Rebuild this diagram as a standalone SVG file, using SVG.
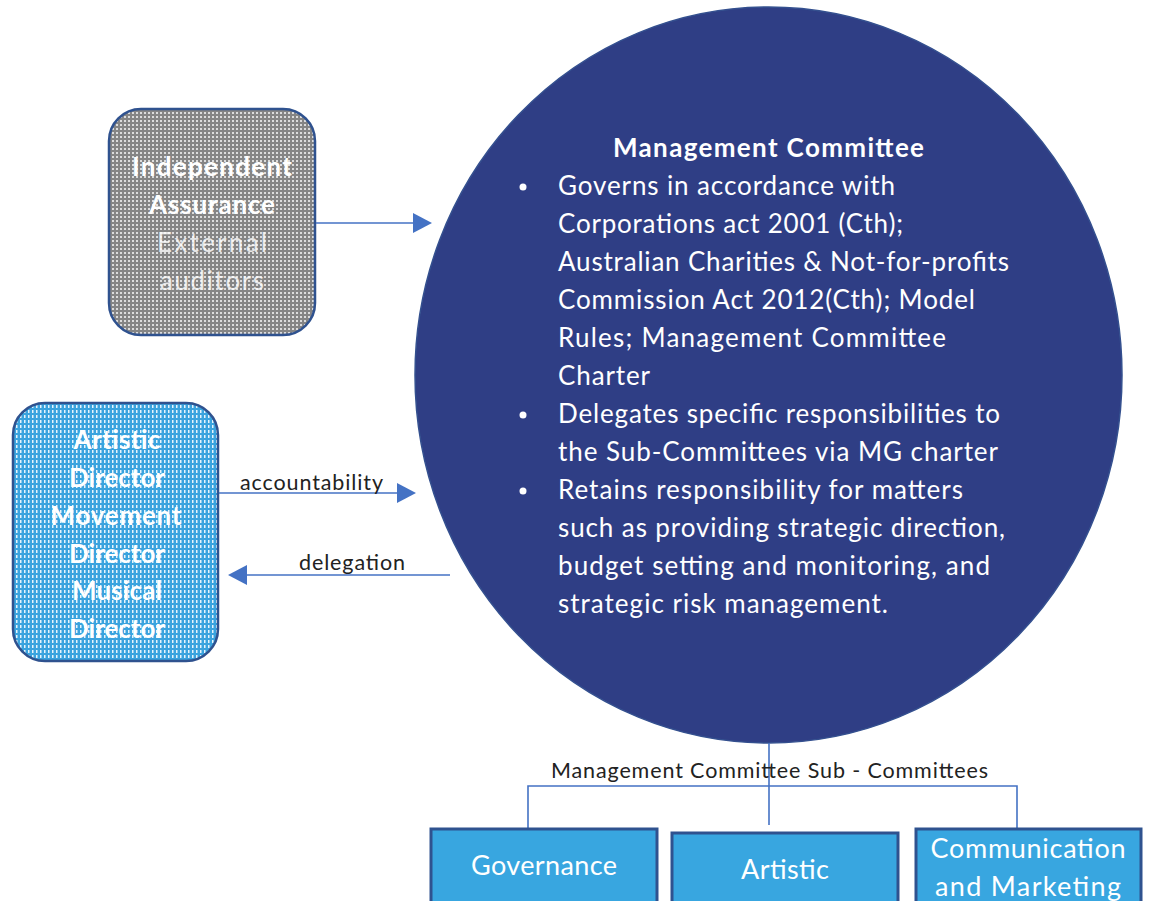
<svg xmlns="http://www.w3.org/2000/svg" width="1150" height="901" viewBox="0 0 1150 901">
<style>
.t{font-family:Lato,"Liberation Sans",sans-serif;}
.w{fill:#ffffff;}
.b{font-weight:bold;}
.body{font-size:26px;fill:#ffffff;}
.lbl{font-size:21.5px;fill:#222222;}
.conn{stroke:#4472C4;stroke-width:1.6;fill:none;}
.sub{fill:#38A6E0;stroke:#2F528F;stroke-width:3;}
.subt{font-size:27px;fill:#ffffff;text-anchor:middle;}
</style>
<defs>
<pattern id="grayDots" width="4" height="4" patternUnits="userSpaceOnUse">
<rect width="4" height="4" fill="#858585"/>
<rect x="0" y="0" width="2" height="2" fill="#dcdcdc"/>
</pattern>
<pattern id="blueDash" width="4" height="5" patternUnits="userSpaceOnUse">
<rect width="4" height="5" fill="#3AA3DE"/>
<rect x="0" y="0" width="1.5" height="3" fill="#e6f4fc"/>
</pattern>
<marker id="arr" markerUnits="userSpaceOnUse" markerWidth="19" markerHeight="20" refX="0" refY="10" orient="auto">
<path d="M0,0 L19,10 L0,20 z" fill="#4472C4"/>
</marker>
</defs>

<g id="management-committee">
<ellipse cx="768.5" cy="375" rx="353.5" ry="368" fill="#2F3E85" stroke="#34508f" stroke-width="1.5"/>
<text class="t b w" x="768.5" y="157" font-size="26" text-anchor="middle" textLength="311">Management  Committee</text>
<g class="t body">
<circle cx="523" cy="187" r="3.5" fill="#fff"/>
<circle cx="523" cy="415" r="3.5" fill="#fff"/>
<circle cx="523" cy="491" r="3.5" fill="#fff"/>
<text x="558" y="195" textLength="337">Governs in accordance with</text>
<text x="558" y="233" textLength="345">Corporations act 2001  (Cth);</text>
<text x="558" y="271" textLength="451">Australian Charities &amp; Not-for-profits</text>
<text x="558" y="309" textLength="417">Commission Act 2012(Cth); Model</text>
<text x="558" y="347" textLength="388">Rules; Management Committee</text>
<text x="558" y="385" textLength="92">Charter</text>
<text x="558" y="423" textLength="442">Delegates specific responsibilities to</text>
<text x="558" y="461" textLength="440">the Sub-Committees via MG charter</text>
<text x="558" y="499" textLength="405">Retains responsibility for matters</text>
<text x="558" y="537" textLength="447">such as providing strategic direction,</text>
<text x="558" y="575" textLength="432">budget setting and monitoring, and</text>
<text x="558" y="613" textLength="330">strategic risk management.</text>
</g>
</g>

<g id="independent-assurance">
<rect x="109" y="109" width="206" height="226" rx="32" fill="url(#grayDots)" stroke="#2F528F" stroke-width="2.5"/>
<g class="t" fill="#ffffff" font-size="26" text-anchor="middle">
<text x="212" y="176" font-weight="bold" textLength="160">Independent</text>
<text x="212" y="214" font-weight="bold" textLength="126">Assurance</text>
<text x="212" y="252" opacity="0.8" textLength="110">External</text>
<text x="212" y="290" opacity="0.8" textLength="104">auditors</text>
</g>
</g>

<g id="directors">
<rect x="13" y="403" width="205" height="258" rx="32" fill="url(#blueDash)" stroke="#2F528F" stroke-width="2.5"/>
<g class="t" fill="#ffffff" font-size="26" font-weight="bold" text-anchor="middle">
<text x="117" y="449" textLength="87">Artistic</text>
<text x="117" y="487" textLength="96">Director</text>
<text x="116" y="525" textLength="131">Movement</text>
<text x="117" y="563" textLength="96">Director</text>
<text x="117" y="600" textLength="90">Musical</text>
<text x="117" y="638" textLength="96">Director</text>
</g>
</g>

<g id="connectors">
<line class="conn" x1="316" y1="223" x2="413" y2="223" marker-end="url(#arr)"/>
<line class="conn" x1="219" y1="493" x2="397" y2="493" marker-end="url(#arr)"/>
<line class="conn" x1="450" y1="575" x2="247" y2="575" marker-end="url(#arr)"/>
<text class="t lbl" x="240" y="490" textLength="143">accountability</text>
<text class="t lbl" x="299" y="570" textLength="106">delegation</text>
<line class="conn" x1="769" y1="743" x2="769" y2="825"/>
<path class="conn" d="M528,828 V786 H1017 V828"/>
<text class="t lbl" x="551" y="778" textLength="437">Management Committee Sub - Committees</text>
</g>

<g id="governance">
<rect class="sub" x="431" y="829" width="226" height="80"/>
<text class="t subt" x="544" y="875" textLength="146">Governance</text>
</g>
<g id="artistic">
<rect class="sub" x="672" y="833" width="226" height="80"/>
<text class="t subt" x="785" y="879" textLength="88">Artistic</text>
</g>
<g id="communication">
<rect class="sub" x="916" y="829" width="225" height="80"/>
<text class="t subt" x="1028" y="858" textLength="195">Communication</text>
<text class="t subt" x="1028" y="896" textLength="186">and Marketing</text>
</g>
</svg>
